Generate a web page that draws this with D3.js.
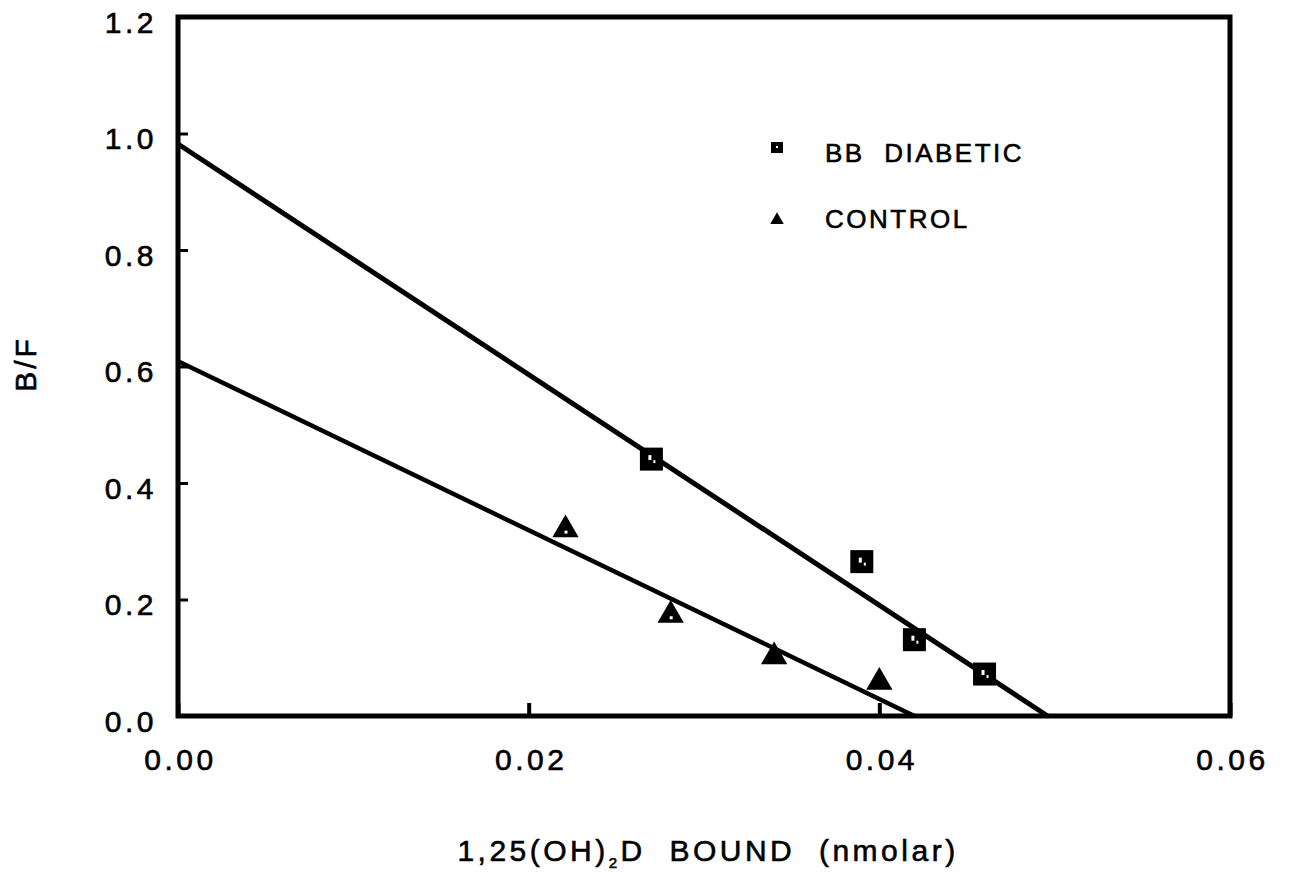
<!DOCTYPE html>
<html>
<head>
<meta charset="utf-8">
<script src="https://cdn.jsdelivr.net/npm/d3@7"></script>
<style>
  html, body { margin: 0; padding: 0; background: #fff; }
  svg { display: block; }
  text { font-family: "Liberation Sans", Arial, sans-serif; fill: #000; stroke: #000; stroke-width: 0.6px; white-space: pre; }
</style>
</head>
<body>
<svg id="chart" width="1290" height="875"></svg>
<script>
// ---- data ----
const diabeticX = [0.0270, 0.0390, 0.0420, 0.0460];
const diabeticY = [0.441, 0.265, 0.131, 0.072];
const controlX = [0.0221, 0.0281, 0.0340, 0.0400];
const controlY = [0.320, 0.173, 0.102, 0.058];
// fitted regression lines (endpoints)
const diabeticFitX = [0.0, 0.0496];
const diabeticFitY = [0.982, 0.0];
const controlFitX = [0.0, 0.0420];
const controlFitY = [0.609, 0.0];
const xTicks = [0.00, 0.02, 0.04, 0.06];
const xTickLabels = ["0.00", "0.02", "0.04", "0.06"];
const yTicks = [0.0, 0.2, 0.4, 0.6, 0.8, 1.0, 1.2];
const yTickLabels = ["0.0", "0.2", "0.4", "0.6", "0.8", "1.0", "1.2"];
const legendLabels = ["BB  DIABETIC", "CONTROL"];

// ---- layout ----
const L = 178, R = 1230, T = 17, B = 716;
const svg = d3.select("#chart");
const x = d3.scaleLinear().domain([0, 0.06]).range([L, R]);
const y = d3.scaleLinear().domain([0, 1.2]).range([B, T]);

// frame
svg.append("rect")
  .attr("x", L).attr("y", T).attr("width", R - L).attr("height", B - T)
  .attr("fill", "none").attr("stroke", "#000").attr("stroke-width", 5);

// x axis (inward ticks at bottom)
const xAxis = d3.axisBottom(x).tickValues(xTicks)
  .tickFormat((d, i) => xTickLabels[i]).tickSizeInner(-13).tickSizeOuter(0).tickPadding(30);
const gx = svg.append("g").attr("transform", `translate(0,${B})`).call(xAxis);
gx.select(".domain").remove();
gx.selectAll(".tick line").attr("stroke", "#000").attr("stroke-width", 4);
gx.selectAll(".tick text")
  .style("font-family", '"Liberation Sans", Arial, sans-serif')
  .style("font-size", "30px").style("letter-spacing", "3.5px")
  .attr("dy", "0.8em").attr("dx", "2px");

// y axis (inward ticks at left)
const yAxis = d3.axisLeft(y).tickValues(yTicks)
  .tickFormat((d, i) => yTickLabels[i]).tickSizeInner(-10).tickSizeOuter(0).tickPadding(21);
const gy = svg.append("g").attr("transform", `translate(${L},0)`).call(yAxis);
gy.select(".domain").remove();
gy.selectAll(".tick line").attr("stroke", "#000").attr("stroke-width", 3);
gy.selectAll(".tick text")
  .style("font-family", '"Liberation Sans", Arial, sans-serif')
  .style("font-size", "30px").style("letter-spacing", "3.5px")
  .attr("dy", "0.5em");

// regression lines
const line = d3.line().x(d => x(d[0])).y(d => y(d[1]));
svg.append("path")
  .datum(diabeticFitX.map((v, i) => [v, diabeticFitY[i]]))
  .attr("d", line).attr("fill", "none").attr("stroke", "#000").attr("stroke-width", 5);
svg.append("path")
  .datum(controlFitX.map((v, i) => [v, controlFitY[i]]))
  .attr("d", line).attr("fill", "none").attr("stroke", "#000").attr("stroke-width", 4.5);

// markers
const sq = 23;
const diabetic = diabeticX.map((v, i) => [v, diabeticY[i]]);
const gs = svg.append("g").selectAll("g").data(diabetic).join("g")
  .attr("transform", d => `translate(${x(d[0])},${y(d[1])})`);
gs.append("rect").attr("x", -sq / 2).attr("y", -sq / 2).attr("width", sq).attr("height", sq).attr("fill", "#000");
gs.append("rect").attr("x", -3).attr("y", -4).attr("width", 3).attr("height", 5).attr("fill", "#fff");
gs.append("rect").attr("x", 2).attr("y", 1).attr("width", 2).attr("height", 3).attr("fill", "#fff");

const tri = d3.symbol().type(d3.symbolTriangle).size(300);
const control = controlX.map((v, i) => [v, controlY[i]]);
const gt = svg.append("g").selectAll("g").data(control).join("g")
  .attr("transform", d => `translate(${x(d[0])},${y(d[1])})`);
gt.append("path").attr("d", tri).attr("fill", "#000");
gt.filter((d, i) => i < 2).append("rect")
  .attr("x", -1).attr("y", 1).attr("width", 3).attr("height", 3).attr("fill", "#fff");

// legend
const lg = svg.append("g");
lg.append("rect").attr("x", 771).attr("y", 142).attr("width", 12).attr("height", 11).attr("fill", "#000");
lg.append("rect").attr("x", 776).attr("y", 146).attr("width", 2).attr("height", 2).attr("fill", "#fff");
lg.append("path").attr("d", d3.symbol().type(d3.symbolTriangle).size(80))
  .attr("transform", "translate(777,220)").attr("fill", "#000");
lg.append("text").attr("x", 825).attr("y", 162).text(legendLabels[0])
  .style("font-size", "26px").style("letter-spacing", "2.5px");
lg.append("text").attr("x", 825).attr("y", 228).text(legendLabels[1])
  .style("font-size", "26px").style("letter-spacing", "2.5px");

// axis titles
const xt = svg.append("text").attr("x", 708).attr("y", 861).attr("text-anchor", "middle")
  .style("font-size", "30px").style("letter-spacing", "3.5px");
xt.append("tspan").text("1,25(OH)");
xt.append("tspan").text("2").style("font-size", "15px").attr("dy", "7");
xt.append("tspan").text("D  BOUND  (nmolar)").attr("dy", "-7");

svg.append("text").attr("transform", "translate(36,364) rotate(-90)")
  .attr("text-anchor", "middle").text("B/F")
  .style("font-size", "30px").style("letter-spacing", "3px");
</script>
</body>
</html>
